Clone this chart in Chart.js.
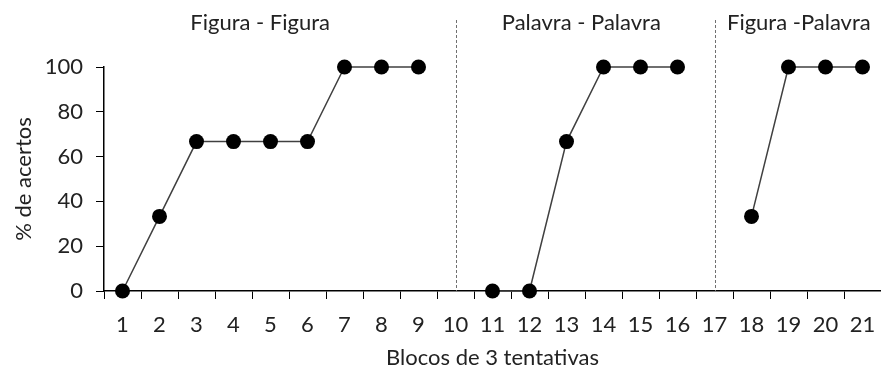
<!DOCTYPE html>
<html>
<head>
<meta charset="utf-8">
<script src="https://cdn.jsdelivr.net/npm/chart.js@4.4.0/dist/chart.umd.min.js"></script>
<style>
  body { margin: 0; background: #fff; }
</style>
</head>
<body>
<canvas id="myChart" width="881" height="371"></canvas>
<script>
// data
var blocos = ["1", "2", "3", "4", "5", "6", "7", "8", "9", "10", "11",
  "12", "13", "14", "15", "16", "17", "18", "19", "20", "21"];
var acertos = [0, 33.3, 66.7, 66.7, 66.7, 66.7, 100, 100, 100, null,
  0, 0, 66.7, 100, 100, 100, null, 33.3, 100, 100, 100];
var yTicks = [0, 20, 40, 60, 80, 100];
var fases = ["Figura - Figura", "Palavra - Palavra", "Figura -Palavra"];
var separadores = ["10", "17"];

var fontFam = "Lato, 'Open Sans', sans-serif";
var textColor = "#222222";

// dashed separators + phase titles
var fasesPlugin = {
  id: "fases",
  beforeDatasetsDraw: function (chart) {
    var ctx = chart.ctx;
    var x = chart.scales.x;
    var y = chart.scales.y;
    ctx.save();
    ctx.strokeStyle = "#707070";
    ctx.lineWidth = 1;
    ctx.setLineDash([3, 2]);
    separadores.forEach(function (s) {
      var px = Math.round(x.getPixelForValue(blocos.indexOf(s))) + 0.5;
      ctx.beginPath();
      ctx.moveTo(px, 20);
      ctx.lineTo(px, y.getPixelForValue(0));
      ctx.stroke();
    });
    ctx.restore();
  },
  afterDraw: function (chart) {
    var ctx = chart.ctx;
    var x = chart.scales.x;
    var centros = [3.72, 12.4, 18.28];
    ctx.save();
    ctx.fillStyle = textColor;
    ctx.font = "22px " + fontFam;
    ctx.textAlign = "center";
    ctx.textBaseline = "middle";
    fases.forEach(function (f, i) {
      ctx.fillText(f, x.getPixelForValue(centros[i]), 23);
    });
    ctx.restore();
  }
};

var ctx = document.getElementById("myChart").getContext("2d");
var myChart = new Chart(ctx, {
  type: "line",
  data: {
    labels: blocos,
    datasets: [
      {
        data: acertos,
        borderColor: "#404040",
        borderWidth: 1.5,
        pointBackgroundColor: "#000000",
        pointBorderColor: "#000000",
        pointRadius: 7.5,
        pointBorderWidth: 0,
        spanGaps: false,
        tension: 0,
        clip: false,
      },
    ],
  },
  options: {
    responsive: false,
    animation: false,
    layout: {
      autoPadding: false,
      padding: { top: 67, right: 0, left: 0, bottom: 0 },
    },
    plugins: {
      legend: { display: false },
      tooltip: { enabled: false },
    },
    scales: {
      x: {
        offset: true,
        afterFit: function (s) {
          s.height = 80;
          s.paddingLeft = 0;
          s.paddingRight = 0;
        },
        grid: {
          offset: true,
          drawOnChartArea: false,
          drawTicks: true,
          tickLength: 8,
          color: "#000000",
        },
        border: { display: true, color: "#000000", width: 1.5 },
        ticks: {
          color: textColor,
          font: { family: fontFam, size: 22 },
          padding: 13,
          maxRotation: 0,
          autoSkip: false,
        },
        title: {
          display: true,
          text: "Blocos de 3 tentativas",
          color: textColor,
          font: { family: fontFam, size: 22 },
          padding: { top: 5, bottom: 0 },
        },
      },
      y: {
        min: 0,
        max: 100,
        afterFit: function (s) { s.width = 104; },
        afterBuildTicks: function (s) {
          s.ticks = yTicks.map(function (v) { return { value: v }; });
        },
        grid: {
          drawOnChartArea: false,
          drawTicks: true,
          tickLength: 8,
          color: "#000000",
        },
        border: { display: true, color: "#000000", width: 1.5 },
        ticks: {
          color: textColor,
          font: { family: fontFam, size: 22 },
          padding: 13,
        },
        title: {
          display: true,
          text: "% de acertos",
          color: textColor,
          font: { family: fontFam, size: 22 },
          padding: { top: 11, bottom: 4 },
        },
      },
    },
  },
  plugins: [fasesPlugin],
});
</script>
</body>
</html>
